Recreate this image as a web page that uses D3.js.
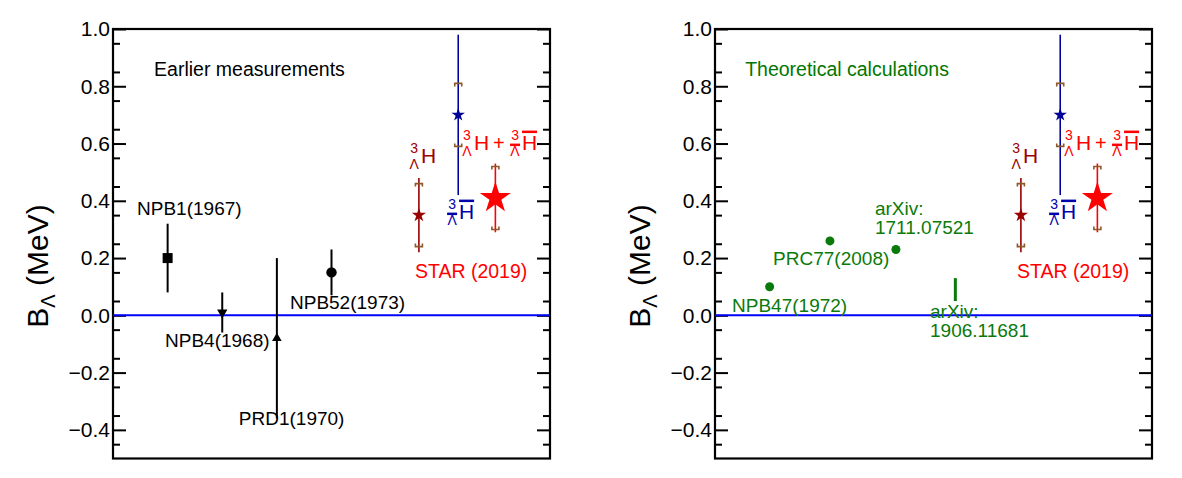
<!DOCTYPE html>
<html>
<head>
  <meta charset="UTF-8">
  <title>Hypertriton binding energy</title>
  <style>
    body{ margin: 0; background-color: #fff; }
    text{ font-family: "Liberation Sans", Arial, Helvetica, sans-serif; }
  </style>
</head>
<body>
<svg></svg>
<script src="https://d3js.org/d3.v7.min.js"></script>

<script>

// earlier measurements (left panel)
let expNames = ["NPB1(1967)", "NPB4(1968)", "PRD1(1970)", "NPB52(1973)"];
let expX = [1.25, 2.5, 3.75, 5.0];
let expB = [0.20, 0.01, -0.08, 0.15];
let expErr = [0.12, 0.07, 0.28, 0.08];
let expMarker = ["square", "down", "up", "circle"];

// theoretical calculations (right panel)
let thNames = [["NPB47(1972)"], ["PRC77(2008)"], ["arXiv:", "1711.07521"], ["arXiv:", "1906.11681"]];
let thX = [1.25, 2.63, 4.14, 5.5];
let thLow = [0.10, 0.26, 0.23, 0.05];
let thHigh = [0.10, 0.26, 0.23, 0.13];

// STAR 2019: hypertriton, anti-hypertriton, combined
let starX = [7.0, 7.9, 8.75];
let starB = [0.35, 0.70, 0.41];
let starStat = [0.13, 0.28, 0.12];
let starSys = [0.11, 0.11, 0.11];

let yTicks = [-0.4, -0.2, 0.0, 0.2, 0.4, 0.6, 0.8, 1.0];

let width = 1182, height = 478;
let svg = d3.select("svg").attr("width", width).attr("height", height);

let pw = 437, frameTop = 29, frameBottom = 458.5;
let y = d3.scaleLinear().domain([-0.5, 1.0]).range([frameBottom, frameTop]);
let fmt = d3.format(".1f");

// label anchors (data units) for the annotations
let expLabel = [[0.55, 0.351], [1.19, -0.11], [2.88, -0.382], [4.05, 0.023]];
let thLabel = [[0.39, 0.012], [1.33, 0.176], [3.66, 0.351], [4.92, -0.009]];

function nuclide(g, px, py, color, anti){
    // pre-scripts 3 and Lambda, then H
    g.append("text").attr("x", px - 7).attr("y", py - 10).attr("text-anchor", "middle")
        .attr("font-size", 14).attr("fill", color).text("3");
    g.append("text").attr("x", px - 7).attr("y", py + 6).attr("text-anchor", "middle")
        .attr("font-size", 14).attr("fill", color).text("Λ");
    g.append("text").attr("x", px).attr("y", py)
        .attr("font-size", 21).attr("fill", color).text("H");
    if (anti) {
        g.append("line").attr("x1", px - 12).attr("x2", px - 2).attr("y1", py - 5).attr("y2", py - 5)
            .attr("stroke", color).attr("stroke-width", 2.5);
        g.append("line").attr("x1", px).attr("x2", px + 15).attr("y1", py - 18).attr("y2", py - 18)
            .attr("stroke", color).attr("stroke-width", 2.5);
    }
}

function panel(x0, title, titleColor, titlePos){
    let x = d3.scaleLinear().domain([0, 10]).range([x0, x0 + pw]);
    let g = svg.append("g");

    // ticks, inward on both sides
    let minor = d3.range(-0.45, 1.0, 0.05).filter(v => Math.abs(Math.round(v * 10) / 10 - v) > 0.01);
    g.append("g").attr("transform", "translate(" + x0 + ",0)")
        .call(d3.axisLeft(y).tickValues(yTicks).tickFormat(fmt).tickSizeInner(-13).tickSizeOuter(0).tickPadding(3))
        .call(a => a.select(".domain").remove())
        .call(a => a.selectAll("text").attr("font-size", 21).attr("font-family", "Liberation Sans, Arial, sans-serif"))
        .call(a => a.selectAll("line").attr("stroke-width", 2));
    g.append("g").attr("transform", "translate(" + x0 + ",0)")
        .call(d3.axisLeft(y).tickValues(minor).tickFormat("").tickSize(-7))
        .call(a => a.select(".domain").remove())
        .call(a => a.selectAll("line").attr("stroke-width", 2));
    g.append("g").attr("transform", "translate(" + (x0 + pw) + ",0)")
        .call(d3.axisRight(y).tickValues(yTicks).tickFormat("").tickSizeInner(-13).tickSizeOuter(0))
        .call(a => a.select(".domain").remove())
        .call(a => a.selectAll("line").attr("stroke-width", 2));
    g.append("g").attr("transform", "translate(" + (x0 + pw) + ",0)")
        .call(d3.axisRight(y).tickValues(minor).tickFormat("").tickSize(-7))
        .call(a => a.select(".domain").remove())
        .call(a => a.selectAll("line").attr("stroke-width", 2));

    // frame
    g.append("rect").attr("x", x0).attr("y", frameTop).attr("width", pw).attr("height", frameBottom - frameTop)
        .attr("fill", "none").attr("stroke", "#000").attr("stroke-width", 2.2);

    // zero line
    g.append("line").attr("x1", x0).attr("x2", x0 + pw).attr("y1", y(0)).attr("y2", y(0))
        .attr("stroke", "#0000ff").attr("stroke-width", 2);

    // axis title
    let t = g.append("text").attr("transform", "translate(" + (x0 - 65) + ",266) rotate(-90)")
        .attr("text-anchor", "middle").attr("font-size", 30);
    t.append("tspan").text("B");
    t.append("tspan").attr("font-size", 20).attr("dy", 7).text("Λ");
    t.append("tspan").attr("dy", -7).text(" (MeV)");

    // panel caption
    g.append("text").attr("x", x(titlePos[0])).attr("y", y(titlePos[1]))
        .attr("font-size", 19.5).attr("fill", titleColor).text(title);

    // STAR points
    let starColor = ["#990000", "#000099", "#ff0000"];
    let starSize = [62, 56, 300];
    starX.forEach((sx, i) => {
        let cx = x(sx);
        g.append("line").attr("x1", cx).attr("x2", cx)
            .attr("y1", y(starB[i] + starStat[i])).attr("y2", y(starB[i] - starStat[i]))
            .attr("stroke", starColor[i]).attr("stroke-width", 1.6);
        let yt = y(starB[i] + starSys[i]), yb = y(starB[i] - starSys[i]);
        g.append("path")
            .attr("d", "M" + (cx - 3.5) + "," + (yt + 3) + "V" + yt + "H" + (cx + 3.5) + "V" + (yt + 3)
                + "M" + (cx - 3.5) + "," + (yb - 3) + "V" + yb + "H" + (cx + 3.5) + "V" + (yb - 3))
            .attr("fill", "none").attr("stroke", "#8c5a2a").attr("stroke-width", 1.6);
        g.append("path").attr("d", d3.symbol().type(d3.symbolStar).size(starSize[i]))
            .attr("transform", "translate(" + cx + "," + y(starB[i]) + ")")
            .attr("fill", starColor[i]);
    });

    // STAR labels
    nuclide(g, x(7.05), y(0.532), "#990000", false);
    nuclide(g, x(7.92), y(0.337), "#0000aa", true);
    nuclide(g, x(8.26), y(0.578), "#ff0000", false);
    g.append("text").attr("x", x(8.83)).attr("y", y(0.578)).attr("text-anchor", "middle")
        .attr("font-size", 20).attr("fill", "#ff0000").text("+");
    nuclide(g, x(9.36), y(0.578), "#ff0000", true);
    g.append("text").attr("x", x(6.91)).attr("y", y(0.131))
        .attr("font-size", 19.5).attr("fill", "#ff0000").text("STAR (2019)");

    return {g: g, x: x};
}

// left: earlier measurements
let L = panel(113, "Earlier measurements", "#000", [0.94, 0.836]);
let symType = {square: d3.symbolSquare, circle: d3.symbolCircle, up: d3.symbolTriangle, down: d3.symbolTriangle};
let symSize = {square: 100, circle: 85, up: 40, down: 46};

expX.forEach((ex, i) => {
    let cx = L.x(ex);
    L.g.append("line").attr("x1", cx).attr("x2", cx)
        .attr("y1", y(expB[i] + expErr[i])).attr("y2", y(expB[i] - expErr[i]))
        .attr("stroke", "#000").attr("stroke-width", 2);
    L.g.append("path").attr("d", d3.symbol().type(symType[expMarker[i]]).size(symSize[expMarker[i]]))
        .attr("transform", "translate(" + cx + "," + y(expB[i]) + ")" + (expMarker[i] === "down" ? " rotate(180)" : ""))
        .attr("fill", "#000");
    L.g.append("text").attr("x", L.x(expLabel[i][0])).attr("y", y(expLabel[i][1]))
        .attr("font-size", 19).attr("fill", "#000").text(expNames[i]);
});

// right: theoretical calculations
let R = panel(715, "Theoretical calculations", "#007700", [0.69, 0.836]);
let green = "#0a7a0a";

thX.forEach((tx, i) => {
    let cx = R.x(tx);
    if (thLow[i] === thHigh[i]) {
        R.g.append("circle").attr("cx", cx).attr("cy", y(thLow[i])).attr("r", 4.5).attr("fill", green);
    } else {
        R.g.append("line").attr("x1", cx).attr("x2", cx).attr("y1", y(thHigh[i])).attr("y2", y(thLow[i]))
            .attr("stroke", green).attr("stroke-width", 3);
    }
    let t = R.g.append("text").attr("font-size", 19).attr("fill", green);
    thNames[i].forEach((s, k) => {
        t.append("tspan").attr("x", R.x(thLabel[i][0])).attr("y", y(thLabel[i][1]) + k * 19.5).text(s);
    });
});

</script>

</body>
</html>
